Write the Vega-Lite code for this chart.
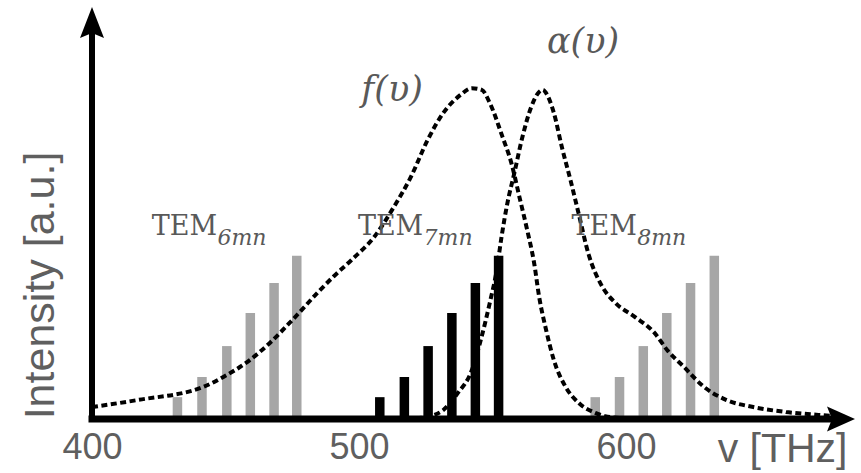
{
  "$schema": "https://vega.github.io/schema/vega-lite/v6.json",
  "width": 773,
  "height": 412,
  "autosize": {"type": "none"},
  "padding": {"left": 87, "top": 7, "right": 1, "bottom": 54},
  "background": "white",
  "config": {"view": {"stroke": null}},
  "datasets": {
    "bars": [
      {"group": "TEM6", "v": 432.0, "I": 5.3}, {"group": "TEM6", "v": 441.2, "I": 10.2}, {"group": "TEM6", "v": 450.5, "I": 17.7},
      {"group": "TEM6", "v": 459.3, "I": 25.7}, {"group": "TEM6", "v": 468.2, "I": 33.0}, {"group": "TEM6", "v": 476.7, "I": 39.6},
      {"group": "TEM7", "v": 507.8, "I": 5.3}, {"group": "TEM7", "v": 517.0, "I": 10.2}, {"group": "TEM7", "v": 525.9, "I": 17.7},
      {"group": "TEM7", "v": 534.8, "I": 25.7}, {"group": "TEM7", "v": 543.6, "I": 33.0}, {"group": "TEM7", "v": 552.3, "I": 39.6},
      {"group": "TEM8", "v": 588.5, "I": 5.3}, {"group": "TEM8", "v": 597.6, "I": 10.2}, {"group": "TEM8", "v": 606.5, "I": 17.7},
      {"group": "TEM8", "v": 615.3, "I": 25.7}, {"group": "TEM8", "v": 624.2, "I": 33.0}, {"group": "TEM8", "v": 633.1, "I": 39.6}
    ],
    "curves": [
      {"curve": "f", "v": 400.0, "I": 2.9}, {"curve": "f", "v": 417.0, "I": 4.6}, {"curve": "f", "v": 441.8, "I": 7.8},
      {"curve": "f", "v": 449.2, "I": 10.2}, {"curve": "f", "v": 459.1, "I": 14.3}, {"curve": "f", "v": 466.5, "I": 18.4},
      {"curve": "f", "v": 475.0, "I": 24.0}, {"curve": "f", "v": 485.0, "I": 31.0}, {"curve": "f", "v": 490.5, "I": 34.6},
      {"curve": "f", "v": 497.2, "I": 38.6}, {"curve": "f", "v": 505.7, "I": 44.2}, {"curve": "f", "v": 513.1, "I": 51.5},
      {"curve": "f", "v": 519.4, "I": 58.7}, {"curve": "f", "v": 525.7, "I": 67.7}, {"curve": "f", "v": 531.6, "I": 74.3},
      {"curve": "f", "v": 537.9, "I": 78.6}, {"curve": "f", "v": 542.3, "I": 80.3}, {"curve": "f", "v": 546.0, "I": 79.9},
      {"curve": "f", "v": 549.0, "I": 76.7}, {"curve": "f", "v": 553.8, "I": 68.4}, {"curve": "f", "v": 557.1, "I": 62.1},
      {"curve": "f", "v": 560.1, "I": 53.9}, {"curve": "f", "v": 563.0, "I": 45.9}, {"curve": "f", "v": 565.6, "I": 37.9},
      {"curve": "f", "v": 567.5, "I": 29.6}, {"curve": "f", "v": 570.1, "I": 21.6}, {"curve": "f", "v": 573.0, "I": 14.3},
      {"curve": "f", "v": 577.4, "I": 7.8}, {"curve": "f", "v": 582.3, "I": 3.9}, {"curve": "f", "v": 588.5, "I": 1.5},
      {"curve": "f", "v": 592.2, "I": 0.7}, {"curve": "f", "v": 598.9, "I": 0.2},
      {"curve": "a", "v": 521.3, "I": 0.2}, {"curve": "a", "v": 526.8, "I": 0.7}, {"curve": "a", "v": 531.6, "I": 2.2},
      {"curve": "a", "v": 536.8, "I": 6.1}, {"curve": "a", "v": 542.3, "I": 11.9}, {"curve": "a", "v": 545.3, "I": 18.4},
      {"curve": "a", "v": 549.0, "I": 28.2}, {"curve": "a", "v": 551.6, "I": 36.2}, {"curve": "a", "v": 553.4, "I": 44.2},
      {"curve": "a", "v": 555.6, "I": 52.4}, {"curve": "a", "v": 558.2, "I": 59.7}, {"curve": "a", "v": 561.2, "I": 68.4},
      {"curve": "a", "v": 564.5, "I": 75.7}, {"curve": "a", "v": 567.5, "I": 79.4}, {"curve": "a", "v": 568.9, "I": 79.9},
      {"curve": "a", "v": 570.1, "I": 79.1}, {"curve": "a", "v": 573.0, "I": 74.3}, {"curve": "a", "v": 576.0, "I": 66.0},
      {"curve": "a", "v": 579.3, "I": 57.8}, {"curve": "a", "v": 582.3, "I": 49.8}, {"curve": "a", "v": 586.0, "I": 40.0},
      {"curve": "a", "v": 590.8, "I": 32.5}, {"curve": "a", "v": 596.0, "I": 28.2}, {"curve": "a", "v": 603.3, "I": 24.8},
      {"curve": "a", "v": 610.7, "I": 20.9}, {"curve": "a", "v": 615.5, "I": 16.7}, {"curve": "a", "v": 621.8, "I": 12.6},
      {"curve": "a", "v": 629.2, "I": 7.8}, {"curve": "a", "v": 637.7, "I": 4.6}, {"curve": "a", "v": 647.7, "I": 2.9},
      {"curve": "a", "v": 659.9, "I": 1.7}, {"curve": "a", "v": 672.1, "I": 1.0}, {"curve": "a", "v": 682.1, "I": 0.5}
    ],
    "tem": [
      {"v": 422.4, "I": 44.7, "t": "TEM"}, {"v": 499.6, "I": 44.7, "t": "TEM"}, {"v": 579.6, "I": 44.7, "t": "TEM"}
    ],
    "sub": [
      {"v": 447.0, "I": 42.3, "t": "6mn"}, {"v": 524.2, "I": 42.3, "t": "7mn"}, {"v": 604.2, "I": 42.3, "t": "8mn"}
    ],
    "funcs": [
      {"v": 500.9, "I": 77.2, "t": "f(υ)"}, {"v": 570.4, "I": 88.8, "t": "α(υ)"}
    ],
    "yaxis": [{"v": 400, "I": 0, "I2": 93}],
    "xaxis": [{"v": 400, "v2": 679, "I": 0}],
    "uparrow": [{"v": 400, "I": 100}],
    "rightarrow": [{"v": 685.8, "I": 0}]
  },
  "encoding": {
    "x": {
      "field": "v", "type": "quantitative",
      "scale": {"domain": [400, 685.8], "nice": false, "zero": false},
      "axis": {
        "values": [400, 500, 600], "domain": false, "ticks": false, "grid": false,
        "labelFontSize": 36, "labelFont": "Liberation Sans", "labelColor": "#5f5f5f",
        "labelPadding": 11, "labelFlush": false, "labelOverlap": false,
        "title": "v [THz]", "titleFontSize": 41, "titleFont": "Liberation Sans", "titleFontWeight": "normal",
        "titleColor": "#5f5f5f", "titleAnchor": "end", "titleAlign": "right", "titleX": 760, "titleY": 42,
        "titleBaseline": "alphabetic"
      }
    },
    "y": {
      "field": "I", "type": "quantitative",
      "scale": {"domain": [0, 100], "nice": false},
      "axis": {
        "domain": false, "ticks": false, "labels": false, "grid": false,
        "title": "Intensity [a.u.]", "titleFontSize": 43, "titleFont": "Liberation Sans", "titleFontWeight": "normal",
        "titleColor": "#5f5f5f", "titleX": -34, "titleY": 278, "titleAlign": "center", "titleBaseline": "alphabetic", "titleAngle": 270
      }
    }
  },
  "layer": [
    {
      "data": {"name": "bars"},
      "mark": {"type": "bar", "size": 9.5},
      "encoding": {
        "color": {"field": "group", "type": "nominal", "scale": {"domain": ["TEM6", "TEM7", "TEM8"], "range": ["#a6a6a6", "#000000", "#a6a6a6"]}, "legend": null}
      }
    },
    {
      "data": {"name": "curves"},
      "mark": {"type": "line", "color": "black", "strokeWidth": 4, "strokeDash": [6, 3.5], "interpolate": "monotone"},
      "encoding": {"detail": {"field": "curve", "type": "nominal"}}
    },
    {
      "data": {"name": "tem"},
      "mark": {"type": "text", "font": "DejaVu Serif", "fontSize": 27, "color": "#595959", "align": "left", "baseline": "alphabetic"},
      "encoding": {"text": {"field": "t"}}
    },
    {
      "data": {"name": "sub"},
      "mark": {"type": "text", "font": "DejaVu Serif", "fontStyle": "italic", "fontSize": 22, "color": "#595959", "align": "left", "baseline": "alphabetic"},
      "encoding": {"text": {"field": "t"}}
    },
    {
      "data": {"name": "funcs"},
      "mark": {"type": "text", "font": "DejaVu Serif", "fontStyle": "italic", "fontSize": 35, "color": "#595959", "align": "left", "baseline": "alphabetic"},
      "encoding": {"text": {"field": "t"}}
    },
    {
      "data": {"name": "yaxis"},
      "mark": {"type": "rule", "color": "black", "strokeWidth": 6, "strokeCap": "square"},
      "encoding": {"y2": {"field": "I2"}}
    },
    {
      "data": {"name": "xaxis"},
      "mark": {"type": "rule", "color": "black", "strokeWidth": 7, "strokeCap": "square"},
      "encoding": {"x2": {"field": "v2"}}
    },
    {
      "data": {"name": "uparrow"},
      "mark": {"type": "point", "shape": "M0,0 L12,31 L0,26 L-12,31 Z", "size": 4, "filled": true, "color": "black", "opacity": 1, "strokeWidth": 0}
    },
    {
      "data": {"name": "rightarrow"},
      "mark": {"type": "point", "shape": "M0,0 L-28,-12.5 L-23,0 L-28,12.5 Z", "size": 4, "filled": true, "color": "black", "opacity": 1, "strokeWidth": 0}
    }
  ]
}
